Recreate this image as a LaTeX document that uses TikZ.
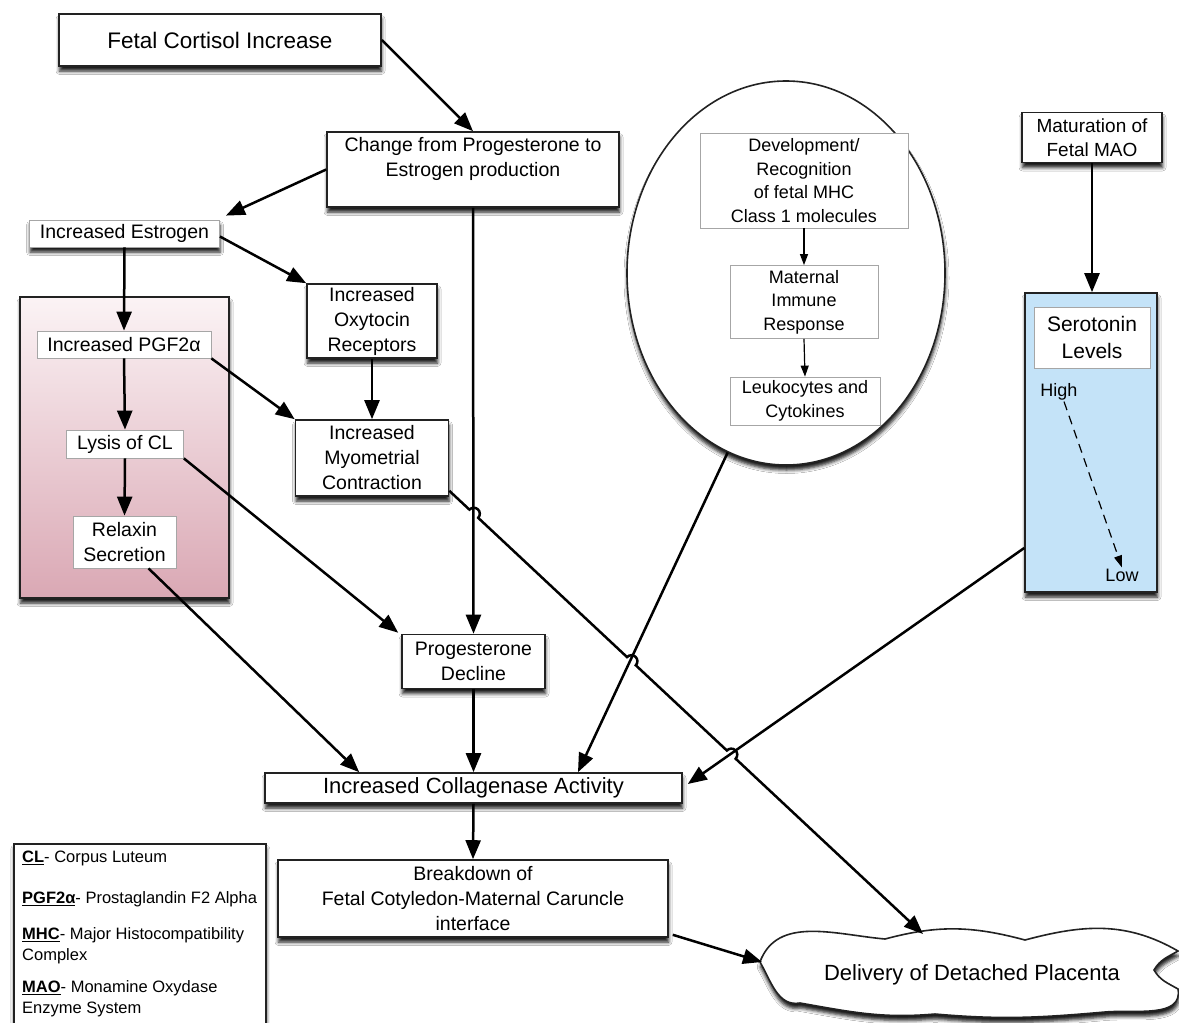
\documentclass[tikz,border=0pt]{standalone}
\usepackage{fontspec}
\setmainfont{Liberation Sans}
\usetikzlibrary{arrows.meta,shapes.geometric,shadows.blur,calc}
\definecolor{pinktop}{HTML}{FBF3F5}
\definecolor{pinkbot}{HTML}{DAA8B4}
\definecolor{bluefill}{HTML}{C4E3F8}
\definecolor{edgecol}{HTML}{222222}
\newcommand{\fsz}[2]{\fontsize{#1}{#2}\selectfont}
\tikzset{
  shd/.style={blur shadow={shadow xshift=0.5pt, shadow yshift=-5pt, shadow blur radius=3.5pt, shadow opacity=90}},
  bx/.style={draw=edgecol, line width=1.6pt, fill=white, align=center, inner sep=2pt, shd, font=\fsz{19.5}{25}},
  gbx/.style={draw=black!35, line width=0.8pt, fill=white, align=center, inner sep=2pt, font=\fsz{19.5}{25}},
  cbx/.style={gbx, font=\fsz{18}{23.5}},
  arr/.style={line width=2.5pt, -{Triangle[length=19pt,width=15pt]}},
  sarr/.style={line width=1.2pt, -{Triangle[length=11pt,width=8pt]}},
}
\begin{document}
\begin{tikzpicture}[x=1pt,y=-1pt]
\fill[white] (0,0) rectangle (1179,1023);
\useasboundingbox (0,0) rectangle (1179,1023);

% left column
\node[bx, minimum width=322pt, minimum height=52pt, font=\fsz{22.5}{27}] (cort) at (220,40) {Fetal Cortisol Increase};
\node[bx, minimum width=292pt, minimum height=75pt] (chg) at (473,169.5) {Change from Progesterone to\\Estrogen production\\\mbox{}};
\node[gbx, shd, minimum width=190pt, minimum height=27pt] (est) at (124.5,233.5) {Increased Estrogen};
\node[draw=edgecol, line width=1.2pt, top color=pinktop, bottom color=pinkbot, shd, minimum width=209pt, minimum height=301pt] (pink) at (124.5,447.5) {};
\node[gbx, minimum width=174pt, minimum height=27pt] (pgf) at (124,344.5) {Increased PGF2α};
\node[gbx, minimum width=117pt, minimum height=28pt] (lys) at (125,444) {Lysis of CL};
\node[gbx, minimum width=103pt, minimum height=52pt] (rel) at (124.5,542) {Relaxin\\Secretion};
\node[bx, minimum width=130pt, minimum height=74pt] (oxy) at (372,321) {Increased\\Oxytocin\\Receptors};
\node[bx, minimum width=153pt, minimum height=76pt] (myo) at (372,458) {Increased\\Myometrial\\Contraction};
\node[bx, minimum width=143pt, minimum height=54pt] (prog) at (473.5,661.5) {Progesterone\\Decline};
\node[bx, minimum width=417pt, minimum height=30pt, font=\fsz{22}{26}] (coll) at (473.5,788) {Increased Collagenase Activity};
\node[bx, minimum width=390pt, minimum height=77pt] (brk) at (473,898.5) {Breakdown of\\Fetal Cotyledon-Maternal Caruncle\\interface};

% circle
\node[ellipse, draw=edgecol, line width=1.6pt, fill=white, shd, minimum width=318pt, minimum height=384pt, inner sep=0pt] (circ) at (786,273) {};
\node[cbx, minimum width=208pt, minimum height=95pt] (dev) at (804,180.5) {Development/\\Recognition\\of fetal MHC\\Class 1 molecules};
\node[cbx, minimum width=148pt, minimum height=73pt] (mat) at (804,302) {Maternal\\Immune\\Response};
\node[cbx, minimum width=150pt, minimum height=48pt] (leu) at (805,401) {Leukocytes and\\Cytokines};

% right column
\node[bx, minimum width=140pt, minimum height=50pt, font=\fsz{19}{24}] (mao) at (1092,137.5) {Maturation of\\Fetal MAO};
\node[draw=edgecol, line width=1.6pt, fill=bluefill, shd, minimum width=132pt, minimum height=299pt] (blue) at (1091,442.5) {};
\node[gbx, minimum width=116pt, minimum height=61pt, font=\fsz{21}{27}] (sero) at (1092,337.5) {Serotonin\\Levels};
\node[font=\fsz{18}{22}, inner sep=1pt] (high) at (1059,392) {High};
\node[font=\fsz{18}{22}, inner sep=1pt] (low) at (1122,575) {Low};

% cloud (custom outline around a named centre)
\coordinate (cloud) at (970,975);
\begin{scope}[shift={(cloud)}]
\draw[draw=edgecol, line width=1.6pt, fill=white, shd]
  (-210,-13) to[out=70,in=175] (-85,-36)
  to[out=15,in=165] (55,-35)
  to[out=15,in=150] (208,-24)
  to[out=210,in=60] (184,-5)
  to[out=-60,in=150] (208,14)
  to[out=-80,in=5] (135,37)
  to[out=-175,in=-5] (-35,39)
  to[out=-175,in=-10] (-170,28)
  to[out=-170,in=-60] cycle;
\end{scope}
\node[font=\fsz{22}{26}, inner sep=1pt] (cloudtxt) at ($(cloud)+(2,0)$) {Delivery of Detached Placenta};

% legend
\node[draw=edgecol, line width=1.6pt, fill=white, shd, minimum width=252pt, minimum height=200pt, anchor=north west] (leg) at (13,843) {};
\node[anchor=north west, align=left, inner sep=0pt, font=\fsz{16.5}{21}] (legtxt) at ($(leg.north west)+(9,8)$) {%
\textbf{\underline{CL}}- Corpus Luteum\\[20pt]
\textbf{\underline{PGF2α}}- Prostaglandin F2 Alpha\\[15pt]
\textbf{\underline{MHC}}- Major Histocompatibility\\
Complex\\[11pt]
\textbf{\underline{MAO}}- Monamine Oxydase\\
Enzyme System};

% arrows
\draw[arr] (cort.east) -- (chg.north);
\draw[arr] (chg.west) -- ($(est.north east)+(6,-4)$);
\draw[arr] (chg.south) -- (prog.north);
\draw[arr] (est.south) -- (pgf.north);
\draw[arr] ($(est.east)+(0,3)$) -- (oxy.north west);
\draw[arr] (pgf.south) -- (lys.north);
\draw[arr] (lys.south) -- (rel.north);
\draw[arr] (pgf.south east) -- (myo.north west);
\draw[arr] (oxy.south) -- (myo.north);
\draw[arr] (lys.south east) -- ($(prog.north west)+(-3,-1)$);
\draw[arr] ($(rel.south)+(24,0)$) -- ($(coll.north west)+(95,0)$);
\draw[arr] (prog.south) -- (coll.north);
\draw[arr] (circ.-108) -- ($(coll.north)+(104.5,0)$);
\draw[arr] ($(blue.west)+(0,105.5)$) -- ($(coll.east)+(5,-4)$);
\draw[arr] (coll.south) -- (brk.north);
\draw[arr] ($(brk.south east)+(4,-3)$) -- ($(cloud)+(-208,-13)$);
\draw[arr] (mao.south) -- (mao.south |- blue.north);
\draw[sarr] (dev.south) -- (mat.north);
\draw[sarr] (mat.south) -- (leu.north);
\draw[line width=1.2pt, dash pattern=on 9pt off 6pt, -{Triangle[length=12pt,width=8pt]}] ($(high.south)+(5,0)$) -- (low.north);

% myometrial -> cloud with line jumps
\coordinate (mS) at ($(myo.south east)+(0,-6)$);
\coordinate (mE) at ($(cloud)+(-47,-41)$);
\draw[arr] let \p1=($(mE)-(mS)$), \n1={atan2(\y1,\x1)} in
  (mS) -- ($(mS)!0.0425!(mE)$) arc[start angle=\n1+180, end angle=\n1, radius=6pt]
  -- ($(mS)!0.3752!(mE)$) arc[start angle=\n1+180, end angle=\n1, radius=6pt]
  -- ($(mS)!0.5860!(mE)$) arc[start angle=\n1+180, end angle=\n1, radius=6pt]
  -- (mE);
\end{tikzpicture}
\end{document}
